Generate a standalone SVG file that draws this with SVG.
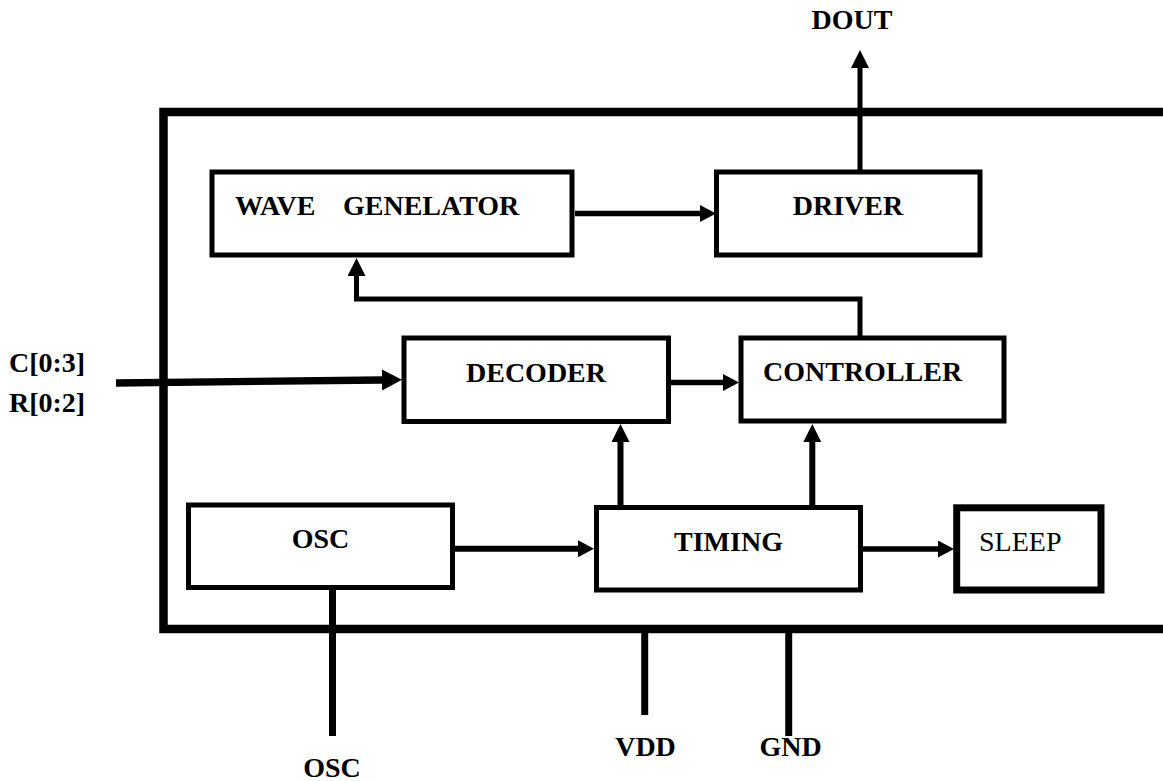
<svg xmlns="http://www.w3.org/2000/svg" width="1163" height="781" viewBox="0 0 1163 781">
<style>
  .box { fill: #fff; stroke: #000; stroke-width: 5; }
  .thick { stroke-width: 7; }
  .lbl { font-family: "Liberation Serif", "Times New Roman", serif; font-size: 28px; font-weight: bold; fill: #000; }
  .reg { font-weight: normal; }
  .mid { text-anchor: middle; }
  .wire { fill: none; stroke: #000; stroke-width: 5.5; }
  .pin { fill: none; stroke: #000; stroke-width: 7; }
  .frame { fill: none; stroke: #000; stroke-width: 8.5; }
</style>
<defs>
  <marker id="arrV" viewBox="0 0 18 18" refX="0" refY="9" markerWidth="18" markerHeight="18" markerUnits="userSpaceOnUse" orient="auto">
    <path d="M0,0 L18,9 L0,18 z" fill="#000"/>
  </marker>
  <marker id="arrH" viewBox="0 0 16 17" refX="0" refY="8.5" markerWidth="16" markerHeight="17" markerUnits="userSpaceOnUse" orient="auto">
    <path d="M0,0 L16,8.5 L0,17 z" fill="#000"/>
  </marker>
  <marker id="arrIn" viewBox="0 0 20 21" refX="0" refY="10.5" markerWidth="20" markerHeight="21" markerUnits="userSpaceOnUse" orient="auto">
    <path d="M0,0 L20,10.5 L0,21 z" fill="#000"/>
  </marker>
</defs>
<rect width="1163" height="781" fill="#fff"/>

<g id="chip-frame">
  <path class="frame" d="M1175,112 H163.5 V629 H1175"/>
</g>

<g id="connectors">
  <path class="wire" style="stroke-width:5" d="M860,172 V68" marker-end="url(#arrV)"/>
  <path class="wire" d="M575,213.5 H700" marker-end="url(#arrH)" style="stroke-width:5.3"/>
  <path class="wire" style="stroke-width:5" d="M860,338 V299 H356.5 V276" marker-end="url(#arrV)"/>
  <path class="pin" style="stroke-width:7.3" d="M116,383 L382,380" marker-end="url(#arrIn)"/>
  <path class="wire" d="M671,382.5 H723" marker-end="url(#arrH)"/>
  <path class="wire" style="stroke-width:6" d="M620.5,505 V442" marker-end="url(#arrV)"/>
  <path class="wire" style="stroke-width:6" d="M812.3,505 V442" marker-end="url(#arrV)"/>
  <path class="wire" style="stroke-width:6" d="M455,548.7 H578" marker-end="url(#arrH)"/>
  <path class="wire" d="M863,549 H938" marker-end="url(#arrH)"/>
  <path class="pin" d="M332.5,590 V736"/>
  <path class="pin" d="M644.7,633 V715"/>
  <path class="pin" d="M788.7,633 V736"/>
</g>

<g id="wave-generator">
  <rect class="box" x="212" y="172" width="360" height="83"/>
  <text class="lbl" y="215"><tspan x="235">WAVE</tspan><tspan x="343">GENELATOR</tspan></text>
</g>

<g id="driver">
  <rect class="box" x="716.5" y="172" width="263.5" height="83"/>
  <text class="lbl mid" x="848" y="215">DRIVER</text>
</g>

<g id="decoder">
  <rect class="box" x="404" y="338" width="264.5" height="83.5"/>
  <text class="lbl mid" x="536" y="382">DECODER</text>
</g>

<g id="controller">
  <rect class="box" x="741" y="338" width="263" height="83"/>
  <text class="lbl" x="763" y="381">CONTROLLER</text>
</g>

<g id="osc">
  <rect class="box" x="188.5" y="505" width="264" height="82.5"/>
  <text class="lbl mid" x="320.5" y="548">OSC</text>
</g>

<g id="timing">
  <rect class="box" x="596.5" y="507.5" width="264" height="82.5"/>
  <text class="lbl mid" x="728.5" y="551">TIMING</text>
</g>

<g id="sleep">
  <rect class="box thick" x="956.7" y="507.8" width="144.3" height="82.2"/>
  <text class="lbl reg" x="979" y="551">SLEEP</text>
</g>

<g id="pin-dout">
  <text class="lbl mid" x="852" y="29">DOUT</text>
</g>

<g id="pin-inputs">
  <text class="lbl" x="9" y="372">C[0:3]</text>
  <text class="lbl" x="9" y="412">R[0:2]</text>
</g>

<g id="pin-osc">
  <text class="lbl mid" x="332" y="777">OSC</text>
</g>

<g id="pin-vdd">
  <text class="lbl mid" x="645.5" y="756">VDD</text>
</g>

<g id="pin-gnd">
  <text class="lbl mid" x="790.5" y="756">GND</text>
</g>
</svg>
